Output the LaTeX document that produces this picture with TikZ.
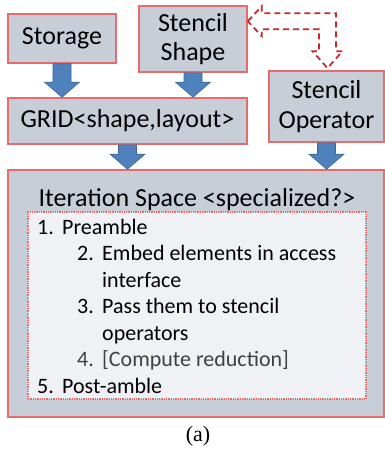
\documentclass[tikz,border=0pt]{standalone}
\usepackage{fontspec}
\setmainfont{Carlito}
\newfontfamily\capfont{Liberation Serif}
\usetikzlibrary{calc}
\definecolor{boxfill}{HTML}{C8CED8}
\definecolor{boxline}{HTML}{E46C6C}
\definecolor{innerfill}{HTML}{F0F1F5}
\definecolor{arrfill}{HTML}{4F81BD}
\definecolor{arrline}{HTML}{3A6596}
\definecolor{dashred}{HTML}{C8262B}
\definecolor{graytext}{HTML}{404040}
\newcommand\blockarrow[2]{%
  \path[barrow] ($(#1)+(-9,0)$) -- ($(#2)+(-9,-15)$) -- ($(#2)+(-17.5,-15)$) -- (#2)
    -- ($(#2)+(17.5,-15)$) -- ($(#2)+(9,-15)$) -- ($(#1)+(9,0)$) -- cycle;}
\begin{document}
\begin{tikzpicture}[x=1pt,y=-1pt,
  box/.style={draw=boxline,line width=1.6pt,fill=boxfill,inner sep=0pt,align=center,
    font=\fontsize{26}{29.5}\selectfont},
  innerbox/.style={draw=boxline,line width=1.3pt,densely dotted,fill=innerfill,inner sep=0pt},
  item/.style={anchor=base west,inner sep=0pt,font=\fontsize{22}{26}\selectfont},
  barrow/.style={fill=arrfill,draw=arrline,line width=0.6pt,line join=miter},
  dasharrow/.style={draw=dashred,line width=1.8pt,dash pattern=on 6pt off 4pt,line join=miter}]
\useasboundingbox (0,0) rectangle (384,452);
\node[box,minimum width=108pt,minimum height=49pt] (storage) at (62,38.5) {Storage};
\node[box,minimum width=108pt,minimum height=66pt] (shape) at (193,39) {Stencil\\Shape};
\node[box,minimum width=239pt,minimum height=46pt] (grid) at (127.5,121) {GRID<shape,layout>};
\node[box,minimum width=115pt,minimum height=71pt] (op) at (326.5,106.5) {Stencil\\Operator};
\node[box,minimum width=376pt,minimum height=247pt] (iter) at (196,293.5) {};
\node[innerbox,minimum width=338pt,minimum height=187pt] (inner) at (197,305.5) {};
\node[anchor=base,inner sep=0pt,font=\fontsize{26}{29.5}\selectfont] (title) at (197,206) {Iteration Space <specialized?>};
% list
\node[item] (n1) at (37,234) {1.};
\node[item] (t1) at (62,234) {Preamble};
\node[item] (n2) at (77,260.5) {2.};
\node[item] (t2) at (102,260.5) {Embed elements in access};
\node[item] (t2b) at (102,287) {interface};
\node[item] (n3) at (77,313.5) {3.};
\node[item] (t3) at (102,313.5) {Pass them to stencil};
\node[item] (t3b) at (102,340) {operators};
\node[item,text=graytext] (n4) at (77,366.5) {4.};
\node[item,text=graytext] (t4) at (102,366.5) {[Compute reduction]};
\node[item] (n5) at (37,393) {5.};
\node[item] (t5) at (62,393) {Post-amble};
% block arrows
\coordinate (a1) at (storage.south |- grid.north);
\coordinate (a2) at (shape.south |- grid.north);
\coordinate (a3) at (grid.south |- iter.north);
\coordinate (a4) at (op.south |- iter.north);
\blockarrow{storage.south}{a1}
\blockarrow{shape.south}{a2}
\blockarrow{grid.south}{a3}
\blockarrow{op.south}{a4}
% dashed hollow bent double arrow
\coordinate (dl) at ($(shape.north east)+(0,16)$);
\coordinate (db) at ($(op.north)+(1,-2)$);
\coordinate (dc) at (db |- dl);
\draw[dasharrow] (dl) -- ++(14,-15) -- ++(0,7) -- ($(dc)+(8.5,-8)$) -- ($(db)+(8.5,-17)$)
  -- ($(db)+(15,-17)$) -- (db) -- ($(db)+(-15,-17)$) -- ($(db)+(-8.5,-17)$)
  -- ($(dc)+(-8.5,8)$) -- ($(dl)+(14,8)$) -- ($(dl)+(14,15)$) -- cycle;
% caption
\node[anchor=base,inner sep=0pt,font=\capfont\fontsize{22}{26}\selectfont] (cap) at (198,441) {(a)};
\end{tikzpicture}
\end{document}
